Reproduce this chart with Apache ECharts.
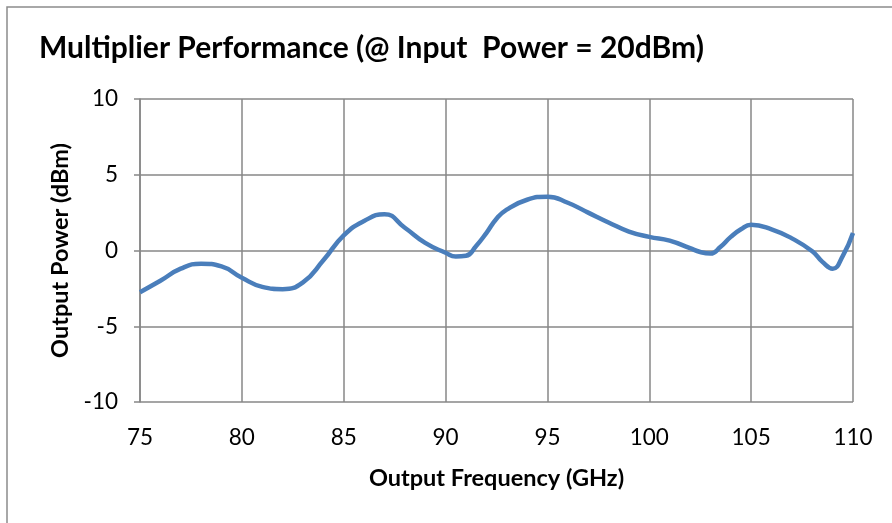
<!DOCTYPE html>
<html>
<head>
<meta charset="utf-8">
<script src="https://cdn.jsdelivr.net/npm/echarts@6/dist/echarts.min.js"></script>
<style>
  html, body { margin: 0; padding: 0; background: #fff; }
  #myChart { width: 892px; height: 523px; }
</style>
</head>
<body>
<div id="myChart"></div>
<script>
// output frequency (GHz) and output power (dBm)
var freqs = [75, 76, 77, 78, 79, 80, 81, 82, 83, 84, 85, 86, 87, 88, 89, 90, 90.5, 91, 91.5, 92, 92.5, 93, 94, 95, 96, 97, 98, 99, 100, 101, 102, 102.5, 103, 103.5, 104, 104.5, 105, 106, 107, 108, 108.5, 109, 109.5, 110];
var power = [-2.75, -2.0, -1.2, -0.87, -1.05, -1.8, -2.4, -2.55, -2.1, -0.65, 1.0, 1.95, 2.4, 1.5, 0.5, -0.15, -0.4, -0.35, 0.3, 1.15, 2.1, 2.7, 3.35, 3.55, 3.15, 2.5, 1.85, 1.25, 0.9, 0.65, 0.15, -0.1, -0.2, 0.25, 0.9, 1.4, 1.7, 1.4, 0.8, -0.05, -0.75, -1.2, -0.35, 1.15];

var seriesData = freqs.map(function (f, i) { return [f, power[i]]; });

var myChart = echarts.init(document.getElementById('myChart'));
myChart.setOption({
    animation: false,
    backgroundColor: '#fff',
    textStyle: { fontFamily: 'Lato' },
    title: {
        text: 'Multiplier Performance (@ Input  Power = 20dBm)',
        left: 34,
        top: 28,
        textStyle: { fontFamily: 'Lato', fontWeight: 'bold', fontSize: 30, color: '#000' }
    },
    graphic: [{
        type: 'rect',
        shape: { x: 7, y: 7, width: 900, height: 530 },
        style: { fill: null, stroke: '#8c8c8c', lineWidth: 1.5 },
        silent: true
    }],
    grid: { left: 140, right: 39, top: 99, bottom: 121 },
    xAxis: {
        type: 'value',
        min: 75,
        max: 110,
        interval: 5,
        name: 'Output Frequency (GHz)',
        nameLocation: 'middle',
        nameGap: 64,
        nameTextStyle: { fontFamily: 'Lato', fontWeight: 'bold', fontSize: 23.5, color: '#000' },
        axisLine: { show: false },
        axisTick: { show: false },
        axisLabel: { fontSize: 22.5, color: '#000', margin: 24 },
        splitLine: { show: true, lineStyle: { color: '#878787', width: 1.5 } }
    },
    yAxis: {
        type: 'value',
        min: -10,
        max: 10,
        interval: 5,
        name: 'Output Power (dBm)',
        nameLocation: 'middle',
        nameGap: 68,
        nameTextStyle: { fontFamily: 'Lato', fontWeight: 'bold', fontSize: 23.5, color: '#000' },
        axisLine: { show: true, lineStyle: { color: '#878787', width: 1.5 } },
        axisTick: { show: true, length: 6, inside: false, lineStyle: { color: '#878787', width: 1.5 } },
        axisLabel: { fontSize: 22.5, color: '#000', margin: 22 },
        splitLine: { show: true, lineStyle: { color: '#878787', width: 1.5 } }
    },
    series: [{
        type: 'line',
        data: seriesData,
        smooth: 0.5,
        showSymbol: false,
        lineStyle: { color: '#4a7ebb', width: 4.5 }
    }]
});
</script>
</body>
</html>
